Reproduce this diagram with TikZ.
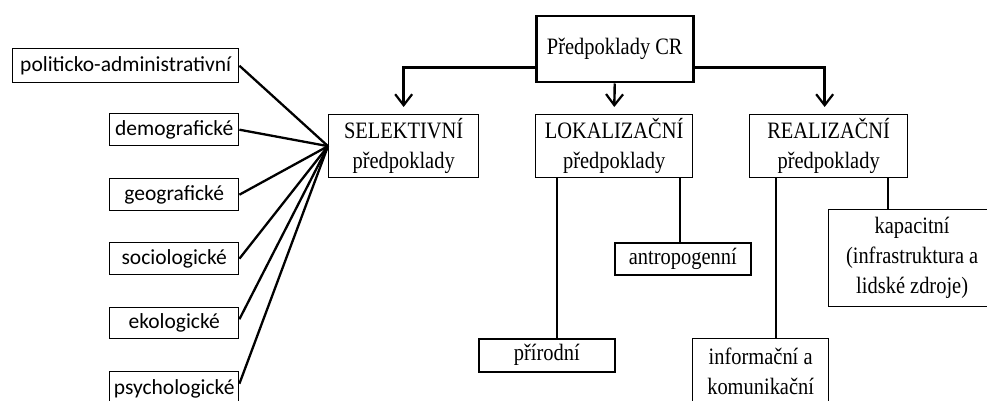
\documentclass[tikz,border=0pt]{standalone}
\usepackage{fontspec}
\newfontfamily\serifc[FakeStretch=0.87]{Liberation Serif}
\newfontfamily\sansc{Carlito}
\usetikzlibrary{arrows.meta}
\begin{document}
\begin{tikzpicture}[x=1pt,y=-1pt,
  sbox/.style={draw, line width=1.4pt, anchor=north west, inner sep=0pt, align=center,
    font=\sansc\fontsize{21.5}{26}\selectfont},
  tbox/.style={draw, line width=1.3pt, anchor=north west, inner sep=0pt, align=center,
    font=\serifc\fontsize{23.5}{30}\selectfont},
  fan/.style={line width=2.3pt},
  arr/.style={line width=2.4pt, -{Straight Barb[length=11pt,width=17pt,line width=2.2pt]}, shorten >=7pt},
  kid/.style={line width=1.9pt}]
\useasboundingbox (0,0) rectangle (987,401);
\clip (0,0) rectangle (987,401);
% left boxes
\node[sbox, minimum width=226pt, minimum height=34pt] (pol) at (12,48) {politicko-administrativní};
\node[sbox, minimum width=129pt, minimum height=32pt] (dem) at (109,113) {demografické};
\node[sbox, minimum width=129pt, minimum height=32pt] (geo) at (109,178) {geografické};
\node[sbox, minimum width=129pt, minimum height=32pt] (soc) at (109,242) {sociologické};
\node[sbox, minimum width=129pt, minimum height=31pt] (eko) at (109,307) {ekologické};
\node[sbox, minimum width=129pt, minimum height=34pt] (psy) at (109,371) {psychologické};
% main boxes
\node[tbox, line width=2.5pt, minimum width=157pt, minimum height=66pt] (cr) at (535,15) {Předpoklady CR};
\node[tbox, minimum width=150pt, minimum height=63pt] (sel) at (328,114) {SELEKTIVNÍ\\předpoklady};
\node[tbox, minimum width=157pt, minimum height=63pt] (lok) at (535,114) {LOKALIZAČNÍ\\předpoklady};
\node[tbox, minimum width=158pt, minimum height=63pt] (rea) at (749,114) {REALIZAČNÍ\\předpoklady};
% children
\node[tbox, line width=1.6pt, minimum width=136pt, minimum height=33pt] (pri) at (478,338) {přírodní};
\node[tbox, line width=1.6pt, minimum width=136pt, minimum height=32pt] (ant) at (614,242) {antropogenní};
\node[tbox, minimum width=136pt, minimum height=66pt] (inf) at (692,338) {informační a\\komunikační};
\node[tbox, minimum width=167pt, minimum height=97pt] (kap) at (828,209) {kapacitní\\(infrastruktura a\\lidské zdroje)};
% fan lines
\draw[fan] (pol.east) -- (sel.west);
\draw[fan] (dem.east) -- (sel.west);
\draw[fan] (geo.east) -- (sel.west);
\draw[fan] (soc.east) -- (sel.west);
\draw[fan] ([yshift=4pt]eko.east) -- (sel.west);
\draw[fan] ([yshift=5pt]psy.east) -- (sel.west);
% arrows
\draw[arr] ([yshift=16pt]cr.south west) -| (sel.north);
\draw[arr] (cr.south) -- (lok.north);
\draw[arr] ([yshift=16pt]cr.south east) -| ([xshift=-4pt]rea.north);
% child lines
\draw[kid] ([xshift=22pt]lok.south west) -- ([xshift=22pt]lok.south west |- pri.north);
\draw[kid] ([xshift=-13pt]lok.south east) -- ([xshift=-13pt]lok.south east |- ant.north);
\draw[kid] ([xshift=27pt]rea.south west) -- ([xshift=27pt]rea.south west |- inf.north);
\draw[kid] ([xshift=-20pt]rea.south east) -- ([xshift=-20pt]rea.south east |- kap.north);
\end{tikzpicture}
\end{document}
